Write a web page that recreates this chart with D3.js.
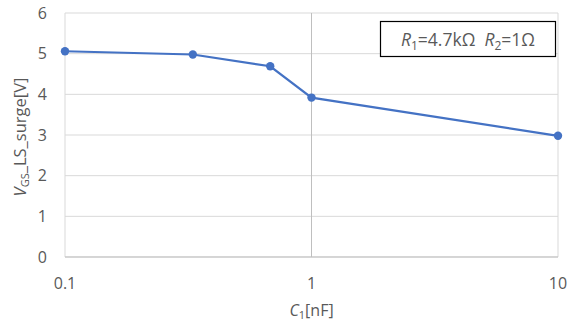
<!DOCTYPE html>
<html>
<head>
<meta charset="utf-8">
<script src="https://cdn.jsdelivr.net/npm/d3@7"></script>
<style>
  body { margin: 0; background: #fff; }
  text { font-family: "Open Sans", "Noto Sans", sans-serif; fill: #595959; }
</style>
</head>
<body>
<div id="chart"></div>
<script>
// data
var capNF = [0.1, 0.33, 0.68, 1, 10];
var vSurge = [5.06, 4.98, 4.69, 3.92, 2.98];
var yTicks = [0, 1, 2, 3, 4, 5, 6];
var xTicks = [0.1, 1, 10];

var W = 567, H = 321;
var plotL = 65, plotR = 558, plotT = 13, plotB = 257;

var svg = d3.select("#chart").append("svg").attr("width", W).attr("height", H);

var xs = d3.scaleLog().domain([0.1, 10]).range([plotL, plotR]);
var ys = d3.scaleLinear().domain([0, 6]).range([plotB, plotT]);

// horizontal grid
svg.append("g")
  .selectAll("line").data(yTicks).enter().append("line")
  .attr("x1", plotL).attr("x2", plotR)
  .attr("y1", d => ys(d)).attr("y2", d => ys(d))
  .attr("stroke", "#d9d9d9").attr("stroke-width", 1);

// vertical grid (decades)
svg.append("g")
  .selectAll("line").data(xTicks).enter().append("line")
  .attr("x1", d => xs(d)).attr("x2", d => xs(d))
  .attr("y1", plotT).attr("y2", plotB)
  .attr("stroke", (d, i) => i == 1 ? "#bfbfbf" : "#d9d9d9").attr("stroke-width", 1);

// bottom axis line
svg.append("line").attr("x1", plotL).attr("x2", plotR)
  .attr("y1", ys(0)).attr("y2", ys(0)).attr("stroke", "#bfbfbf");

// y tick labels
svg.append("g").selectAll("text").data(yTicks).enter().append("text")
  .attr("x", plotL - 18).attr("y", d => ys(d)).attr("dy", "0.36em")
  .attr("text-anchor", "end").attr("font-size", 16).text(d => d);

// x tick labels
svg.append("g").selectAll("text").data(xTicks).enter().append("text")
  .attr("x", d => xs(d)).attr("y", 289)
  .attr("text-anchor", "middle").attr("font-size", 16).text(d => d);

// line + markers
var line = d3.line().x(d => xs(d[0])).y(d => ys(d[1]));
var pts = capNF.map((c, i) => [c, vSurge[i]]);
svg.append("path").datum(pts).attr("d", line)
  .attr("fill", "none").attr("stroke", "#4472c4").attr("stroke-width", 2.2);
svg.append("g").selectAll("circle").data(pts).enter().append("circle")
  .attr("cx", d => xs(d[0])).attr("cy", d => ys(d[1])).attr("r", 4.2)
  .attr("fill", "#4472c4");

// x axis title
var xt = svg.append("text").attr("x", xs(1)).attr("y", 316)
  .attr("text-anchor", "middle").attr("font-size", 16);
xt.append("tspan").attr("font-style", "italic").text("C");
xt.append("tspan").attr("font-size", 11).attr("dy", 3).text("1");
xt.append("tspan").attr("dy", -3).text("[nF]");

// y axis title
var yt = svg.append("text").attr("transform", "translate(26," + 137 + ") rotate(-90)")
  .attr("text-anchor", "middle").attr("font-size", 16.5);
yt.append("tspan").attr("font-style", "italic").text("V");
yt.append("tspan").attr("font-size", 11).attr("dy", 3).text("GS");
yt.append("tspan").attr("dy", -3).text("_LS_surge[V]");

// annotation box
svg.append("rect").attr("x", 380.5).attr("y", 21.5).attr("width", 175).attr("height", 35)
  .attr("fill", "#fff").attr("stroke", "#000").attr("stroke-width", 1.2);
var lt = svg.append("text").attr("x", 468).attr("y", 45.5)
  .attr("text-anchor", "middle").attr("font-size", 17.5);
lt.append("tspan").attr("font-style", "italic").text("R");
lt.append("tspan").attr("font-size", 12).attr("dy", 4).text("1");
lt.append("tspan").attr("dy", -4).text("=4.7kΩ\u00a0\u00a0");
lt.append("tspan").attr("font-style", "italic").text("R");
lt.append("tspan").attr("font-size", 12).attr("dy", 4).text("2");
lt.append("tspan").attr("dy", -4).text("=1Ω");
</script>
</body>
</html>
